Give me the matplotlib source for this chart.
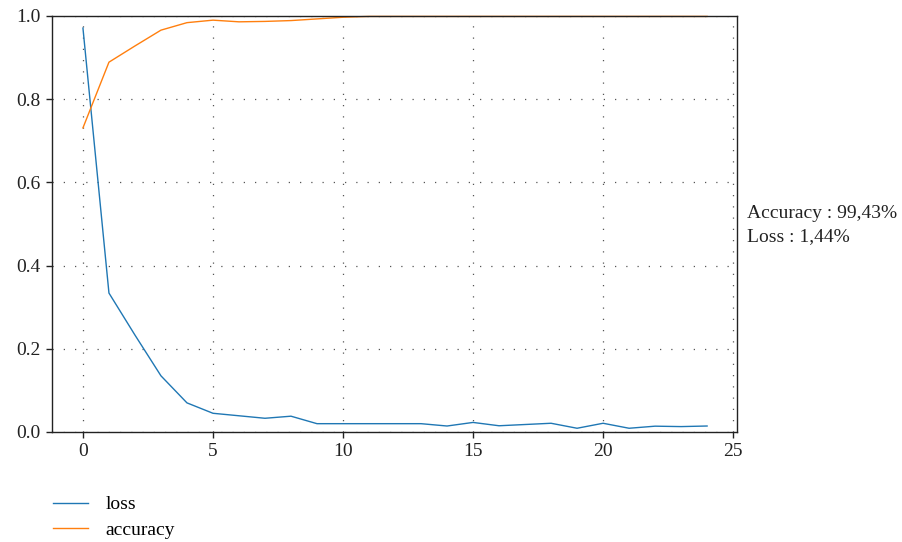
import matplotlib.pyplot as plt

# === Données d'entraînement ===
epochs = list(range(25))
loss = [0.971, 0.334, 0.233, 0.135, 0.070, 0.045, 0.039, 0.033, 0.038, 0.020,
        0.020, 0.020, 0.020, 0.020, 0.0144, 0.023, 0.015, 0.018, 0.021, 0.009,
        0.021, 0.009, 0.014, 0.013, 0.0144]
accuracy = [0.731, 0.889, 0.928, 0.966, 0.984, 0.990, 0.986, 0.987, 0.989, 0.993,
            0.997, 0.999, 0.999, 0.999, 0.999, 0.999, 0.999, 0.999, 0.999, 0.999,
            0.999, 0.999, 0.999, 0.999, 0.999]
score_txt = "Accuracy : 99,43%\nLoss : 1,44%"

plt.rcParams['font.family'] = ['Liberation Serif', 'DejaVu Serif']
plt.rcParams['font.size'] = 14

fig = plt.figure(figsize=(9.03, 5.42), dpi=100)
ax = fig.add_axes([52 / 903, 1 - 432 / 542, (737 - 52) / 903, (432 - 16) / 542])

l1, = ax.plot(epochs, loss, color="#1f77b4", lw=1.0, label="loss")
l2, = ax.plot(epochs, accuracy, color="#ff7f0e", lw=1.0, label="accuracy", clip_on=False)

ax.set_xlim(-1.19, 25.15)
ax.set_ylim(0, 1.0)
ax.set_xticks([0, 5, 10, 15, 20, 25])
ax.set_yticks([0.0, 0.2, 0.4, 0.6, 0.8, 1.0])
ax.grid(True, color="#555555", lw=0.9, linestyle=(0, (1, 8)))
ax.tick_params(direction="out", length=4, width=1, colors="#222222", labelsize=14, pad=4)
for s in ax.spines.values():
    s.set_color("#222222")
    s.set_linewidth(1.0)

# score final à droite du graphe
fig.text(747 / 903, 1 - 225 / 542, score_txt, fontsize=14, va="center", ha="left",
         color="#222222", linespacing=1.45)

fig.legend(handles=[l1, l2], loc="upper left", bbox_to_anchor=(45 / 903, 1 - 488 / 542),
           frameon=False, fontsize=14, handlelength=1.8, handletextpad=0.9,
           labelspacing=0.4, borderaxespad=0)

fig.savefig("out.png", dpi=100)
